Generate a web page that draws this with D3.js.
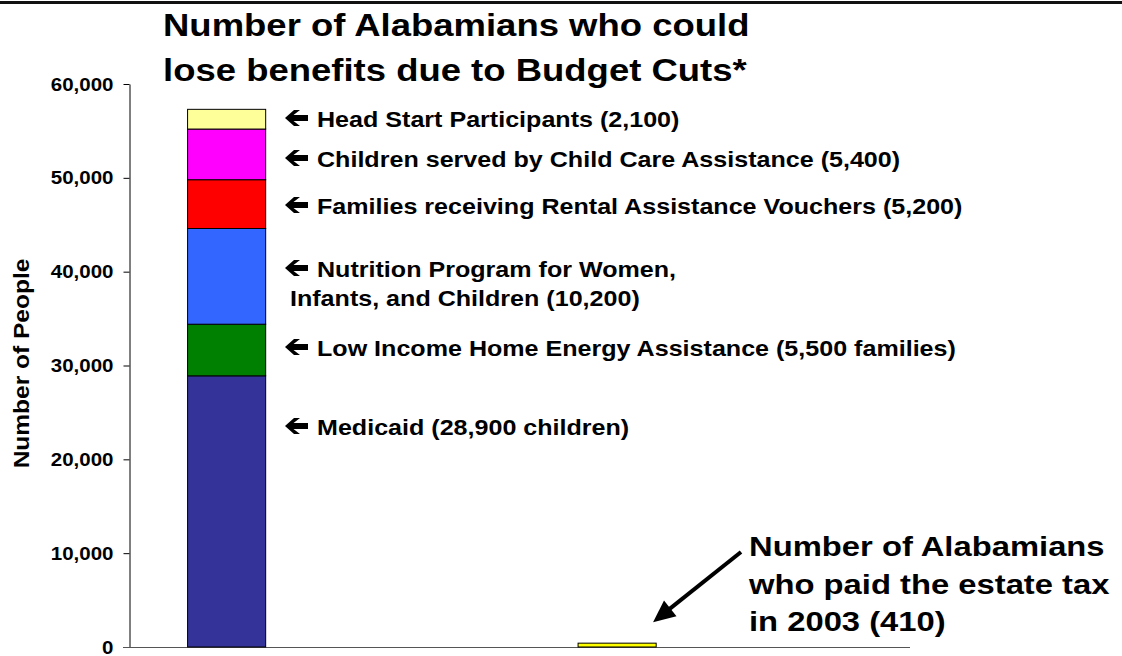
<!DOCTYPE html>
<html>
<head>
<meta charset="utf-8">
<script src="https://cdn.jsdelivr.net/npm/d3@7"></script>
<style>
  html, body { margin: 0; padding: 0; background: #fff; }
  svg text { font-family: "Liberation Sans", Arial, sans-serif; font-weight: bold; fill: #000; }
</style>
</head>
<body>
<div id="vis"></div>
<script>
////////////////////////////////////////
////////////// Data ////////////////////
////////////////////////////////////////

const categories = ["Budget cuts", "Estate tax"]

const programs = [
    "Medicaid",
    "Low Income Home Energy Assistance",
    "Nutrition Program for Women, Infants, and Children",
    "Families receiving Rental Assistance Vouchers",
    "Children served by Child Care Assistance",
    "Head Start Participants"
]

const programValues = [28900, 5500, 10200, 5200, 5400, 2100]

const programLabels = [
    ["Medicaid (28,900 children)"],
    ["Low Income Home Energy Assistance (5,500 families)"],
    ["Nutrition Program for Women,", " Infants, and Children (10,200)"],
    ["Families receiving Rental Assistance Vouchers (5,200)"],
    ["Children served by Child Care Assistance (5,400)"],
    ["Head Start Participants (2,100)"]
]

const estateTaxPayers = 410

const yTicks = [0, 10000, 20000, 30000, 40000, 50000, 60000]

const titleLines = ["Number of Alabamians who could", "lose benefits due to Budget Cuts*"]
const noteLines = ["Number of Alabamians", "who paid the estate tax", "in 2003 (410)"]

////////////////////////////////////////
////////////// Layout //////////////////
////////////////////////////////////////

const width = 1122
const height = 656
const SX = 1.14   // horizontal stretch of the text in the original

const programColors = ["#333399", "#008000", "#3366FF", "#FF0000", "#FF00FF", "#FFFF99"]
const labelBaselines = [435, 356, 277, 214, 167, 127]

const svg = d3.select('#vis').append('svg')
    .attr('width', width)
    .attr('height', height)

function stretch(sel, k = SX) {
    sel.each(function () {
        const len = this.getComputedTextLength()
        d3.select(this).attr('textLength', len * k).attr('lengthAdjust', 'spacingAndGlyphs')
    })
    return sel
}

////////////////////////////////////////
////////////// Scales //////////////////
////////////////////////////////////////

const yScale = d3.scaleLinear()
    .domain([0, 60000])
    .range([647, 84])

const xScale = d3.scaleBand()
    .domain(categories)
    .range([129, 910])

const barW = xScale.bandwidth() * 0.2
const barX = d => xScale(d) + xScale.bandwidth() * 0.25 - barW / 2

// top rule
svg.append('line')
    .attr('x1', 0).attr('x2', width)
    .attr('y1', 2.5).attr('y2', 2.5)
    .attr('stroke', '#111')
    .attr('stroke-width', 3)

////////////////////////////////////////
////////////// Axes ////////////////////
////////////////////////////////////////

const yAxis = svg.append('g')
    .attr('transform', 'translate(129.5,0)')
    .call(d3.axisLeft(yScale)
        .tickValues(yTicks)
        .tickFormat(d3.format(','))
        .tickSize(6)
        .tickSizeOuter(0)
        .tickPadding(10))

yAxis.select('.domain').attr('stroke', '#000')
yAxis.selectAll('.tick line').attr('stroke', '#000')
yAxis.selectAll('.tick text')
    .attr('font-size', 18)
    .attr('font-family', null)
    .attr('dy', '0.34em')
stretch(yAxis.selectAll('.tick text'))

svg.append('line')
    .attr('x1', 123).attr('x2', xScale.range()[1])
    .attr('y1', yScale(0) + 0.5).attr('y2', yScale(0) + 0.5)
    .attr('stroke', '#555')

const yTitle = svg.append('text')
    .attr('transform', `translate(29,${(yScale(0) + yScale(60000)) / 2 - 2}) rotate(-90)`)
    .attr('text-anchor', 'middle')
    .attr('font-size', 21.5)
    .text('Number of People')
stretch(yTitle)

////////////////////////////////////////
////////////// Bars ////////////////////
////////////////////////////////////////

const stacked = programValues.map((v, i) => {
    const y0 = d3.sum(programValues.slice(0, i))
    return { name: programs[i], y0: y0, y1: y0 + v, i: i }
})

svg.selectAll('.seg')
    .data(stacked)
    .join('rect')
    .attr('class', 'seg')
    .attr('x', barX(categories[0]))
    .attr('width', barW)
    .attr('y', d => yScale(d.y1))
    .attr('height', d => yScale(d.y0) - yScale(d.y1))
    .attr('fill', d => programColors[d.i])
    .attr('stroke', '#000')
    .attr('stroke-width', 1)

svg.append('rect')
    .attr('x', barX(categories[1]))
    .attr('width', barW)
    .attr('y', yScale(estateTaxPayers))
    .attr('height', yScale(0) - yScale(estateTaxPayers))
    .attr('fill', '#FFFF00')
    .attr('stroke', '#000')
    .attr('stroke-width', 1)

////////////////////////////////////////
////////////// Labels //////////////////
////////////////////////////////////////

const arrowPath = 'M0,0 L9,-8 L15,-8 L8.5,-3 L23,-3 L23,3 L8.5,3 L15,8 L9,8 Z'

const labels = svg.selectAll('.lab')
    .data(stacked)
    .join('g')
    .attr('class', 'lab')
    .attr('transform', d => `translate(0,${labelBaselines[d.i]})`)

labels.append('path')
    .attr('d', arrowPath)
    .attr('transform', 'translate(285,-9)')
    .attr('fill', '#000')

labels.each(function (d) {
    const g = d3.select(this)
    programLabels[d.i].forEach((line, j) => {
        const t = g.append('text')
            .attr('x', j === 0 ? 317 : 283)
            .attr('y', j * 29)
            .attr('font-size', 22)
            .attr('xml:space', 'preserve')
            .style('white-space', 'pre')
            .text(line)
        stretch(t)
    })
})

////////////////////////////////////////
////////////// Title ///////////////////
////////////////////////////////////////

titleLines.forEach((line, i) => {
    const t = svg.append('text')
        .attr('x', 163)
        .attr('y', 36 + i * 45)
        .attr('font-size', 32)
        .text(line)
    stretch(t)
})

////////////////////////////////////////
////////////// Estate tax note /////////
////////////////////////////////////////

noteLines.forEach((line, i) => {
    const t = svg.append('text')
        .attr('x', 749)
        .attr('y', 556 + i * 37.5)
        .attr('font-size', 28)
        .text(line)
    stretch(t, 1.17)
})

const tipX = barX(categories[1]) + barW * 0.96
const tipY = yScale(estateTaxPayers) - 21
const fromX = 741, fromY = 552

const ang = Math.atan2(tipY - fromY, tipX - fromX)
const hl = 22, hw = 10

svg.append('line')
    .attr('x1', fromX).attr('y1', fromY)
    .attr('x2', tipX - (hl - 4) * Math.cos(ang)).attr('y2', tipY - (hl - 4) * Math.sin(ang))
    .attr('stroke', '#000')
    .attr('stroke-width', 4)

svg.append('path')
    .attr('d', `M0,0 L${-hl},${-hw} L${-hl},${hw} Z`)
    .attr('transform', `translate(${tipX},${tipY}) rotate(${ang * 180 / Math.PI})`)
    .attr('fill', '#000')
</script>
</body>
</html>
